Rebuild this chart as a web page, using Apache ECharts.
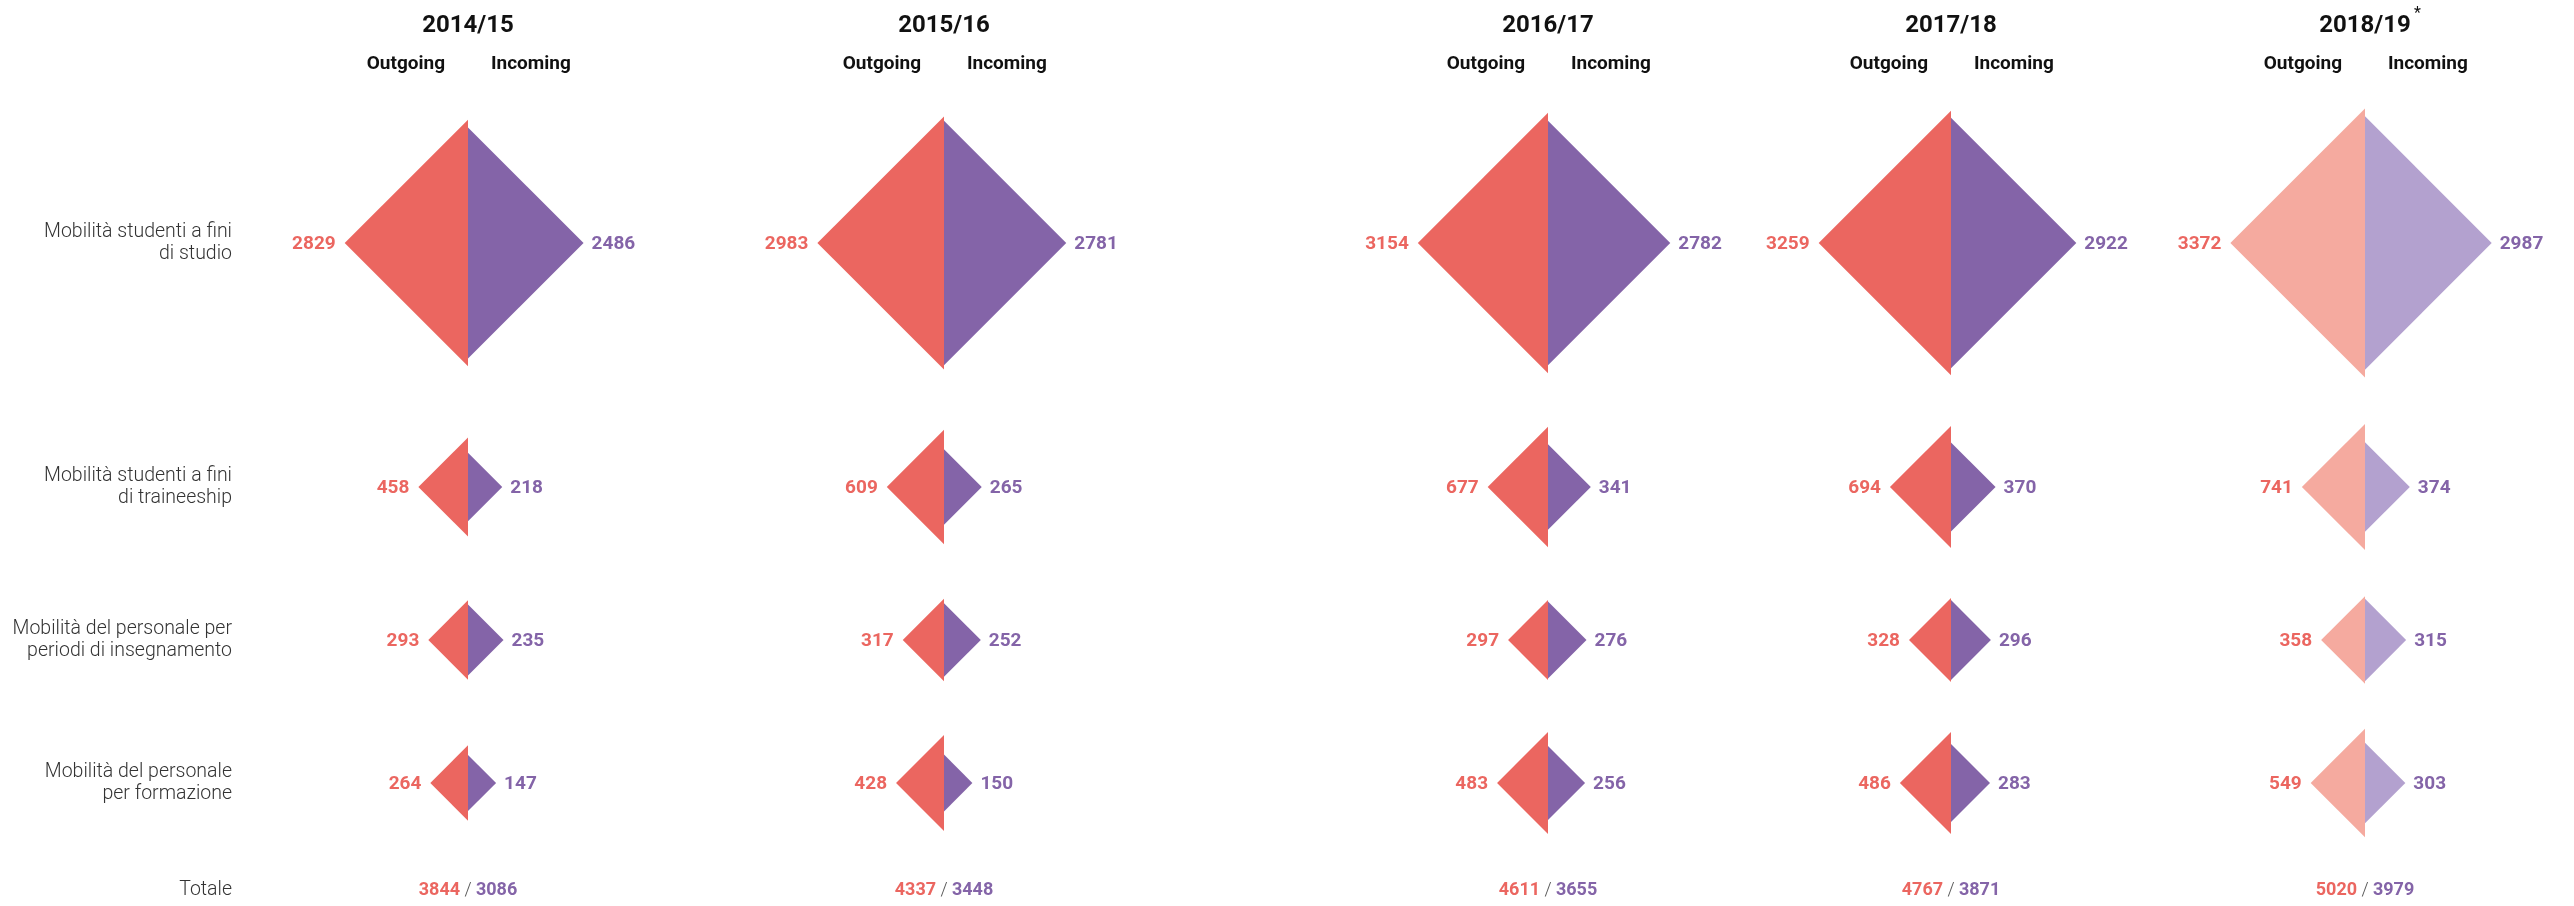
<!DOCTYPE html>
<html>
<head>
<meta charset="utf-8">
<title>Mobilità Erasmus</title>
<script src="https://cdn.jsdelivr.net/npm/echarts@6/dist/echarts.min.js"></script>
<style>
  html, body { margin: 0; padding: 0; background: #fff; }
  #chart { width: 2574px; height: 906px; }
</style>
</head>
<body>
<div id="chart"></div>
<script>
// anni accademici
var years = ['2014/15', '2015/16', '2016/17', '2017/18', '2018/19'];
var categories = [
  'Mobilità studenti a fini\ndi studio',
  'Mobilità studenti a fini\ndi traineeship',
  'Mobilità del personale per\nperiodi di insegnamento',
  'Mobilità del personale\nper formazione'
];

// outgoing / incoming per categoria, un valore per anno
var studioOut = [2829, 2983, 3154, 3259, 3372];
var studioIn = [2486, 2781, 2782, 2922, 2987];
var traineeshipOut = [458, 609, 677, 694, 741];
var traineeshipIn = [218, 265, 341, 370, 374];
var insegnamentoOut = [293, 317, 297, 328, 358];
var insegnamentoIn = [235, 252, 276, 296, 315];
var formazioneOut = [264, 428, 483, 486, 549];
var formazioneIn = [147, 150, 256, 283, 303];

var outgoing = [studioOut, traineeshipOut, insegnamentoOut, formazioneOut];
var incoming = [studioIn, traineeshipIn, insegnamentoIn, formazioneIn];

// layout (pixel units of the hidden axes)
var COL_X = [468, 944, 1548, 1951, 2365];
var ROW_Y = [243, 487, 640, 783];
var TOT_Y = 890;
var K = 2.318; // half diagonal = K * sqrt(value)

var RED = '#eb6660', PURPLE = '#8464a8';
var RED_L = '#f5aa9f', PURPLE_L = '#b3a1cf';
var FONT = 'Roboto, "Noto Sans", sans-serif';

var diamondData = [];
for (var r = 0; r < categories.length; r++) {
  for (var y = 0; y < years.length; y++) {
    diamondData.push([y, r, outgoing[r][y], incoming[r][y]]);
  }
}
var totalData = years.map(function (yr, y) {
  var o = 0, i = 0;
  for (var r = 0; r < categories.length; r++) { o += outgoing[r][y]; i += incoming[r][y]; }
  return [y, o, i];
});

function renderDiamond(params, api) {
  var y = api.value(0), row = api.value(1);
  var vo = api.value(2), vi = api.value(3);
  var cx = COL_X[y], cy = ROW_Y[row];
  var ro = K * Math.sqrt(vo), ri = K * Math.sqrt(vi);
  var last = y === years.length - 1;
  var left = [api.coord([cx, cy - ro]), api.coord([cx - ro, cy]), api.coord([cx, cy + ro])];
  var right = [api.coord([cx, cy - ri]), api.coord([cx + ri, cy]), api.coord([cx, cy + ri])];
  var tipL = api.coord([cx - ro, cy]);
  var tipR = api.coord([cx + ri, cy]);
  return {
    type: 'group',
    children: [
      { type: 'polygon', shape: { points: left }, style: { fill: last ? RED_L : RED } },
      { type: 'polygon', shape: { points: right }, style: { fill: last ? PURPLE_L : PURPLE } },
      { type: 'text', x: tipL[0] - 9, y: tipL[1] + 1,
        style: { text: String(vo), fill: RED, font: 'bold 19px ' + FONT, align: 'right', verticalAlign: 'middle' } },
      { type: 'text', x: tipR[0] + 8, y: tipR[1] + 1,
        style: { text: String(vi), fill: PURPLE, font: 'bold 19px ' + FONT, align: 'left', verticalAlign: 'middle' } }
    ]
  };
}

function renderTotal(params, api) {
  var p = api.coord([COL_X[api.value(0)], TOT_Y]);
  return {
    type: 'text', x: p[0], y: p[1],
    style: {
      text: '{o|' + api.value(1) + '}{s| / }{i|' + api.value(2) + '}',
      align: 'center', verticalAlign: 'middle',
      rich: {
        o: { fill: RED, font: 'bold 18px ' + FONT },
        s: { fill: '#555', font: '300 18px ' + FONT },
        i: { fill: PURPLE, font: 'bold 18px ' + FONT }
      }
    }
  };
}

var graphics = [];
years.forEach(function (yr, y) {
  var cx = COL_X[y];
  graphics.push({ type: 'text', x: cx, y: 26,
    style: { text: yr, fill: '#111', font: 'bold 24px ' + FONT, align: 'center', verticalAlign: 'middle' } });
  graphics.push({ type: 'text', x: cx - 23, y: 64,
    style: { text: 'Outgoing', fill: '#111', font: 'bold 19px ' + FONT, align: 'right', verticalAlign: 'middle' } });
  graphics.push({ type: 'text', x: cx + 23, y: 64,
    style: { text: 'Incoming', fill: '#111', font: 'bold 19px ' + FONT, align: 'left', verticalAlign: 'middle' } });
});
graphics.push({ type: 'text', x: COL_X[4] + 49, y: 14,
  style: { text: '*', fill: '#111', font: '16px ' + FONT, align: 'left', verticalAlign: 'middle' } });
categories.forEach(function (c, r) {
  graphics.push({ type: 'text', x: 232, y: ROW_Y[r],
    style: { text: c, fill: '#333', font: '300 19.5px ' + FONT, lineHeight: 22, align: 'right', verticalAlign: 'middle' } });
});
graphics.push({ type: 'text', x: 232, y: TOT_Y,
  style: { text: 'Totale', fill: '#333', font: '300 19.5px ' + FONT, align: 'right', verticalAlign: 'middle' } });

var chart = echarts.init(document.getElementById('chart'), null, { renderer: 'canvas' });
chart.setOption({
  animation: false,
  backgroundColor: '#fff',
  grid: { left: 0, right: 0, top: 0, bottom: 0 },
  xAxis: { type: 'value', min: 0, max: 2574, show: false },
  yAxis: { type: 'value', min: 0, max: 906, inverse: true, show: false },
  graphic: graphics,
  series: [
    { type: 'custom', renderItem: renderDiamond, data: diamondData, silent: true },
    { type: 'custom', renderItem: renderTotal, data: totalData, silent: true }
  ]
});
</script>
</body>
</html>
